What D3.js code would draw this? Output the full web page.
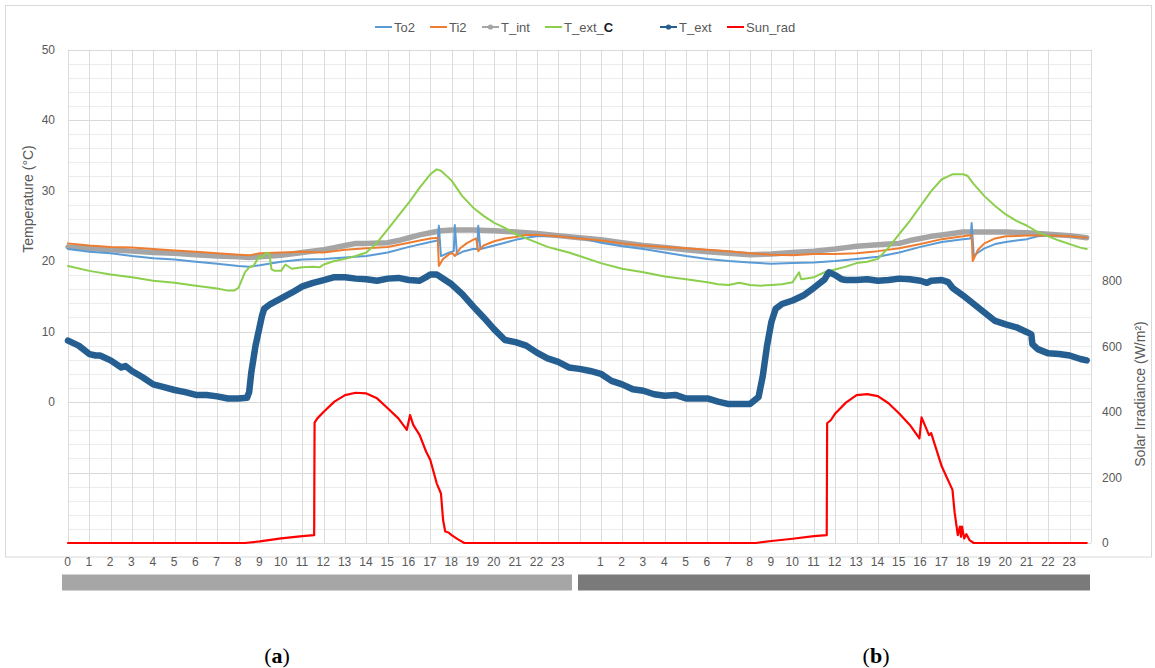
<!DOCTYPE html>
<html>
<head>
<meta charset="utf-8">
<script src="https://cdn.jsdelivr.net/npm/d3@7"></script>
<style>
  html, body { margin: 0; padding: 0; background: #ffffff; }
  svg { display: block; }
  .lbl { font-family: "Liberation Sans Narrow", "Liberation Sans", Arial, sans-serif; fill: #595959; }
</style>
</head>
<body>
<svg id="chart" width="1155" height="668"></svg>
<script>
// ---------------- DATA ----------------
// hour of the 48 h period (day 1: 0–24, day 2: 24–48) and value
const seriesNames = ["To2", "Ti2", "T_int", "T_ext_C", "T_ext", "Sun_rad"];

const to2 = [
  [0,21.7],[1,21.3],[2,21.1],[3,20.7],[4,20.4],[5,20.2],[6,19.9],[7,19.6],[8,19.3],[8.5,19.2],[9,19.4],
  [10,19.9],[11,20.2],[12,20.3],[13,20.5],[14,20.7],[15,21.2],[16,22.0],[17,22.7],[17.35,22.9],[17.4,25.0],
  [17.5,20.7],[17.9,21.2],[18.1,21.4],[18.15,25.1],[18.25,20.9],[18.5,21.3],[19,21.7],[19.2,21.7],[19.25,25.0],
  [19.35,21.7],[19.5,21.8],[20,22.2],[20.5,22.6],[21,23.0],[21.5,23.3],[22,23.5],[23,23.5],[24,23.3],
  [25,22.6],[26,22.1],[27,21.7],[28,21.2],[29,20.7],[30,20.3],[31,20.0],[32,19.8],[33,19.6],[34,19.7],
  [35,19.8],[36,20.0],[37,20.3],[38,20.6],[39,21.2],[40,22.0],[41,22.7],[42,23.1],[42.35,23.2],[42.4,25.4],
  [42.5,20.7],[42.7,21.2],[43,21.8],[43.5,22.4],[44,22.7],[45,23.1],[45.5,23.5],[46,23.6],[47,23.5],[47.8,23.3]
];

const ti2 = [
  [0,22.5],[1,22.2],[2,22.0],[3,21.9],[4,21.7],[5,21.5],[6,21.3],[7,21.1],[8,20.9],[8.5,20.8],[9,21.1],
  [10,21.2],[11,21.3],[12,21.2],[13,21.6],[14,21.8],[15,22.0],[16,22.6],[16.5,22.9],[17,23.2],[17.35,23.3],
  [17.4,19.3],[17.6,20.3],[17.9,21.0],[18.05,21.1],[18.15,20.7],[18.4,21.8],[18.7,22.5],[19,23.0],[19.15,23.2],
  [19.25,21.4],[19.5,22.2],[20,22.8],[20.5,23.2],[21,23.4],[21.5,23.7],[22,23.7],[23,23.5],[24,23.2],
  [25,22.9],[26,22.5],[27,22.2],[28,22.0],[29,21.8],[30,21.6],[31,21.4],[32,21.1],[33,20.9],[34,20.8],
  [35,21.0],[36,21.0],[37,21.1],[38,21.4],[39,21.8],[40,22.4],[41,23.1],[42,23.5],[42.4,23.7],[42.45,20.0],
  [42.7,21.6],[43,22.5],[43.5,23.2],[44,23.5],[45,23.6],[46,23.6],[47,23.5],[47.8,23.3]
];

const tInt = [
  [0,22.0],[1,21.8],[2,21.6],[3,21.4],[4,21.2],[5,21.1],[6,20.9],[7,20.7],[8,20.6],[8.5,20.5],[9,20.6],
  [10,20.8],[11,21.2],[12,21.6],[12.5,21.9],[13,22.2],[13.5,22.5],[14,22.5],[15,22.6],[15.5,22.9],[16,23.3],
  [16.5,23.7],[17,24.0],[17.5,24.3],[18,24.4],[19,24.4],[20,24.3],[21,24.1],[22,23.9],[23,23.6],[24,23.3],
  [25,23.0],[26,22.6],[27,22.2],[28,21.9],[29,21.6],[30,21.3],[31,21.1],[32,20.9],[33,21.0],[34,21.2],
  [35,21.4],[36,21.7],[36.5,21.9],[37,22.1],[38,22.3],[38.5,22.4],[39,22.5],[39.5,22.9],[40,23.2],[40.5,23.5],
  [41,23.7],[41.5,23.9],[42,24.1],[43,24.1],[44,24.1],[45,24.0],[46,23.8],[47,23.6],[47.8,23.3]
];

const tExtC = [
  [0,19.3],[1,18.6],[2,18.1],[3,17.7],[4,17.2],[5,16.9],[6,16.5],[7,16.1],[7.5,15.8],[7.8,15.8],[8,16.2],
  [8.3,18.4],[8.5,19.1],[8.7,19.3],[8.9,20.3],[9,20.7],[9.1,20.5],[9.3,21.2],[9.45,21.0],[9.55,18.8],[9.7,18.6],
  [10,18.6],[10.2,19.5],[10.5,18.9],[11,19.1],[11.5,19.2],[11.8,19.1],[12,19.5],[12.5,20.0],[13,20.3],[13.5,20.7],
  [14,21.2],[14.5,22.6],[15,24.5],[15.5,26.4],[16,28.3],[16.5,30.4],[17,32.3],[17.3,33.0],[17.5,32.8],[18,31.4],
  [18.5,29.2],[19,27.6],[19.5,26.4],[20,25.4],[20.5,24.7],[21,23.8],[21.5,23.2],[22,22.6],[22.5,22.0],[23,21.6],
  [23.5,21.2],[24,20.7],[25,19.7],[26,18.9],[27,18.4],[28,17.8],[29,17.4],[30,17.0],[30.5,16.7],[31,16.6],
  [31.5,16.9],[32,16.6],[32.5,16.5],[33,16.6],[33.5,16.7],[34,17.0],[34.3,18.4],[34.4,17.4],[35,17.7],[35.5,18.4],
  [36,18.8],[36.5,19.2],[37,19.7],[37.5,19.9],[38,20.3],[38.5,21.9],[39,23.8],[39.5,25.7],[40,27.8],[40.5,29.9],
  [41,31.6],[41.5,32.3],[42,32.3],[42.2,32.1],[42.5,30.9],[43,29.2],[43.5,27.8],[44,26.6],[44.5,25.7],[45,25.0],
  [45.5,24.1],[46,23.5],[46.5,22.9],[47,22.4],[47.5,21.9],[47.8,21.7]
];

const tExt = [
  [0,8.7],[0.5,8.0],[1,6.8],[1.3,6.6],[1.5,6.6],[2,5.9],[2.5,4.9],[2.7,5.1],[3,4.4],[3.5,3.5],[4,2.5],
  [4.5,2.1],[5,1.7],[5.5,1.4],[6,1.0],[6.5,1.0],[7,0.8],[7.5,0.5],[8,0.5],[8.4,0.6],[8.5,1.4],[8.6,4.2],
  [8.8,8.0],[9,10.8],[9.1,12.2],[9.2,13.2],[9.5,13.9],[10,14.7],[10.5,15.5],[11,16.4],[11.5,16.9],[12,17.3],
  [12.5,17.7],[13,17.7],[13.5,17.5],[14,17.4],[14.5,17.2],[15,17.5],[15.5,17.6],[16,17.3],[16.5,17.2],[16.8,17.7],
  [17,18.1],[17.3,18.1],[17.5,17.7],[18,16.7],[18.5,15.3],[19,13.6],[19.5,12.0],[20,10.3],[20.5,8.8],[21,8.5],
  [21.5,8.0],[22,7.0],[22.5,6.2],[23,5.7],[23.5,4.9],[24,4.7],[24.5,4.4],[25,4.0],[25.5,3.0],[26,2.5],[26.5,1.8],
  [27,1.6],[27.5,1.1],[28,0.9],[28.5,1.0],[29,0.5],[29.5,0.5],[30,0.5],[30.5,0.05],[31,-0.3],[31.5,-0.3],[32,-0.3],
  [32.4,0.7],[32.6,3.7],[32.8,8.0],[33,11.3],[33.2,13.2],[33.5,13.9],[34,14.4],[34.5,15.1],[35,16.2],[35.5,17.4],
  [35.7,18.4],[36,18.0],[36.3,17.4],[36.5,17.3],[37,17.3],[37.5,17.4],[38,17.2],[38.5,17.3],[39,17.5],[39.5,17.4],
  [40,17.2],[40.3,16.9],[40.5,17.2],[41,17.3],[41.3,17.0],[41.5,16.2],[42,15.1],[42.5,13.9],[43,12.7],[43.5,11.5],
  [44,11.0],[44.5,10.6],[45,9.9],[45.2,9.6],[45.25,8.2],[45.5,7.5],[46,6.9],[46.5,6.8],[47,6.6],[47.5,6.1],[47.8,5.9]
];

const sunRad = [
  [0,0],[8.3,0],[9,5],[10,14],[11,21],[11.55,24],[11.57,367],[11.7,380],[12,400],[12.5,431],[13,451],[13.5,458],
  [14,456],[14.5,441],[15,411],[15.5,380],[15.9,345],[16.05,390],[16.2,360],[16.5,329],[16.8,279],[17,253],
  [17.3,182],[17.5,151],[17.6,70],[17.7,35],[17.85,32],[18,24],[18.3,11],[18.6,0],[24,0],[32.27,0],[33,6],
  [34,13],[35,21],[35.6,24],[35.62,365],[35.8,375],[36,395],[36.5,428],[37,451],[37.5,454],[38,448],[38.5,426],
  [39,395],[39.5,360],[39.95,319],[40.05,383],[40.4,329],[40.5,335],[41,233],[41.5,162],[41.6,94],[41.75,24],
  [41.85,50],[41.9,19],[41.95,50],[42.05,14],[42.15,27],[42.3,9],[42.5,0],[47.8,0]
];

// tick labels
const tempTicks = [0, 10, 20, 30, 40, 50];
const sunTicks = [0, 200, 400, 600, 800];
const hourTicksDay1 = d3.range(0, 24);        // 0..23
const hourTicksDay2 = d3.range(25, 48);       // shown as 1..23
const panelLabels = ["a", "b"];

// ---------------- CHART ----------------
const svg = d3.select("#chart");

const x = d3.scaleLinear().domain([0, 48]).range([68, 1091]);
const yT = d3.scaleLinear().domain([-20, 50]).range([543, 49.5]);
const yS = d3.scaleLinear().domain([0, 1500]).range([543, 51]);

// chart area border
svg.append("rect").attr("x", 5.5).attr("y", 5.5).attr("width", 1146).attr("height", 551.5)
  .attr("fill", "none").attr("stroke", "#d9d9d9").attr("stroke-width", 1);

// gridlines
const grid = svg.append("g");
d3.range(-20, 51, 2).forEach(v => {
  grid.append("line").attr("x1", x(0)).attr("x2", x(48))
    .attr("y1", Math.round(yT(v)) + 0.5).attr("y2", Math.round(yT(v)) + 0.5)
    .attr("stroke", v % 10 === 0 ? "#d9d9d9" : "#ececec").attr("stroke-width", 1);
});
d3.range(0, 49, 1).forEach(h => {
  grid.append("line").attr("y1", yT(50)).attr("y2", yT(-20))
    .attr("x1", Math.round(x(h)) + 0.5).attr("x2", Math.round(x(h)) + 0.5)
    .attr("stroke", "#dcdcdc").attr("stroke-width", 1);
});

// axes
const leftAxis = svg.append("g").attr("transform", "translate(58,0)")
  .call(d3.axisLeft(yT).tickValues(tempTicks).tickSize(0).tickPadding(3));
const rightAxis = svg.append("g").attr("transform", "translate(1099,0)")
  .call(d3.axisRight(yS).tickValues(sunTicks).tickSize(0).tickPadding(3));
const bottomAxis = svg.append("g").attr("transform", "translate(-1,553)")
  .call(d3.axisBottom(x).tickValues(hourTicksDay1.concat(hourTicksDay2)).tickSize(0).tickPadding(4)
    .tickFormat(h => h < 24 ? String(h) : String(h - 24)));
[leftAxis, rightAxis, bottomAxis].forEach(a => {
  a.select(".domain").remove();
  a.selectAll("text").attr("class", "lbl").style("font-size", "12px")
    .attr("font-family", null);
});
bottomAxis.selectAll("text").style("font-size", "12px");

// axis titles
svg.append("text").attr("class", "lbl")
  .attr("transform", "translate(33,199) rotate(-90)")
  .attr("text-anchor", "middle").style("font-size", "14px")
  .attr("font-family", "Liberation Sans, Arial, sans-serif")
  .text("Temperature (°C)");
svg.append("text").attr("class", "lbl")
  .attr("transform", "translate(1145,394) rotate(-90)")
  .attr("text-anchor", "middle").style("font-size", "14px")
  .attr("font-family", "Liberation Sans, Arial, sans-serif")
  .text("Solar Irradiance (W/m²)");

// lines
const lineT = d3.line().x(d => x(d[0])).y(d => yT(d[1]));
const lineS = d3.line().x(d => x(d[0])).y(d => yS(d[1]));

const styles = {
  To2: { color: "#5b9bd5", w: 2 },
  Ti2: { color: "#ed7d31", w: 2 },
  T_int: { color: "#a5a5a5", w: 5.5 },
  T_ext_C: { color: "#8ccf4d", w: 2 },
  T_ext: { color: "#255e91", w: 6.5 },
  Sun_rad: { color: "#ff0000", w: 2.2 }
};

const plot = svg.append("g");
function draw(data, gen, name) {
  plot.append("path").datum(data).attr("d", gen)
    .attr("fill", "none").attr("stroke", styles[name].color)
    .attr("stroke-width", styles[name].w)
    .attr("stroke-linejoin", "round").attr("stroke-linecap", "round");
}
draw(tInt, lineT, "T_int");
draw(to2, lineT, "To2");
draw(ti2, lineT, "Ti2");
draw(tExtC, lineT, "T_ext_C");
draw(tExt, lineT, "T_ext");
draw(sunRad, lineS, "Sun_rad");

// legend
const legendPos = { To2: 375, Ti2: 430, T_int: 482, T_ext_C: 545, T_ext: 660, Sun_rad: 727 };
const markerSeries = { T_int: true, T_ext: true };
const lg = svg.append("g");
seriesNames.forEach(name => {
  const lx = legendPos[name], ly = 27;
  lg.append("line").attr("x1", lx).attr("x2", lx + 17).attr("y1", ly).attr("y2", ly)
    .attr("stroke", styles[name].color).attr("stroke-width", 2);
  if (markerSeries[name]) {
    lg.append("circle").attr("cx", lx + 8.5).attr("cy", ly).attr("r", 2.6)
      .attr("fill", styles[name].color);
  }
  const t = lg.append("text").attr("class", "lbl").attr("x", lx + 19).attr("y", ly + 4.5)
    .style("font-size", "13px").attr("font-family", "Liberation Sans, Arial, sans-serif");
  if (name === "T_ext_C") {
    t.append("tspan").text("T_ext_");
    t.append("tspan").text("C").attr("fill", "#1a1a1a").style("font-weight", "bold");
  } else {
    t.text(name);
  }
});

// day bars
svg.append("rect").attr("x", 62).attr("y", 574.5).attr("width", 510).attr("height", 16).attr("fill", "#a6a6a6");
svg.append("rect").attr("x", 578).attr("y", 574.5).attr("width", 512).attr("height", 16).attr("fill", "#7a7a7a");

// panel labels
const panelX = [277, 876];
panelLabels.forEach((p, i) => {
  const t = svg.append("text").attr("x", panelX[i]).attr("y", 663).attr("text-anchor", "middle")
    .attr("font-family", "Liberation Serif, 'Times New Roman', serif").style("font-size", "22px").attr("fill", "#000");
  t.append("tspan").text("(");
  t.append("tspan").text(p).style("font-weight", "bold");
  t.append("tspan").text(")");
});
</script>
</body>
</html>
